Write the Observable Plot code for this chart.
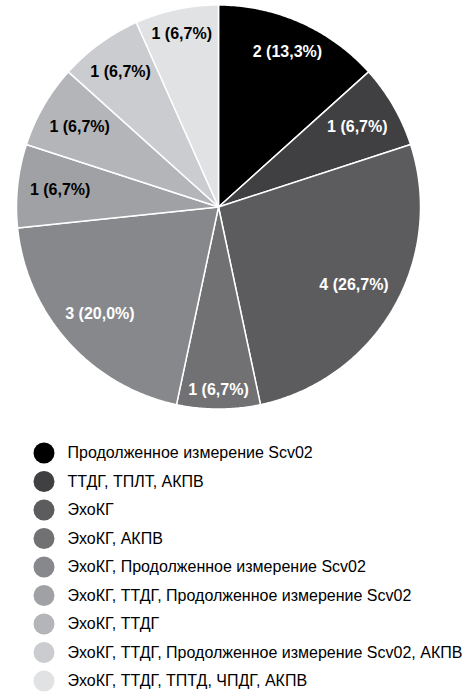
<!DOCTYPE html>
<html>
<head>
<meta charset="utf-8">
<script src="https://cdn.jsdelivr.net/npm/d3@7"></script>
<script src="https://cdn.jsdelivr.net/npm/@observablehq/plot@0.6"></script>
<style>
  html, body { margin: 0; padding: 0; background: #fff; }
  svg { display: block; }
</style>
</head>
<body>
<div id="chart"></div>
<script>
// ---- data ----
const categories = [
  "Продолженное измерение Scv02",
  "ТТДГ, ТПЛТ, АКПВ",
  "ЭхоКГ",
  "ЭхоКГ, АКПВ",
  "ЭхоКГ, Продолженное измерение Scv02",
  "ЭхоКГ, ТТДГ, Продолженное измерение Scv02",
  "ЭхоКГ, ТТДГ",
  "ЭхоКГ, ТТДГ, Продолженное измерение Scv02, АКПВ",
  "ЭхоКГ, ТТДГ, ТПТД, ЧПДГ, АКПВ"
];
const counts = [2, 1, 4, 1, 3, 1, 1, 1, 1];
const sliceLabels = ["2 (13,3%)", "1 (6,7%)", "4 (26,7%)", "1 (6,7%)", "3 (20,0%)", "1 (6,7%)", "1 (6,7%)", "1 (6,7%)", "1 (6,7%)"];
const colors = ["#000000", "#404042", "#5c5c5f", "#717174", "#87888b", "#a0a1a4", "#b4b5b8", "#cbcccf", "#e1e2e4"];
const labelColors = ["#fff", "#fff", "#fff", "#fff", "#fff", "#000", "#000", "#000", "#000"];

// ---- layout ----
const W = 463, H = 693;
const cx = 218, cy = 206.5, R = 202;
const font = '"Liberation Sans", Arial, Helvetica, sans-serif';
const labelSize = 16, legendSize = 16;

const pie = d3.pie().sort(null).value(d => d)(counts);

// slice outlines
const slicePts = [];
pie.forEach((p, i) => {
  slicePts.push({name: categories[i], color: colors[i], x: cx, y: cy});
  const n = Math.max(8, Math.ceil((p.endAngle - p.startAngle) / (Math.PI / 360)));
  for (let k = 0; k <= n; k++) {
    const a = p.startAngle + (p.endAngle - p.startAngle) * k / n;
    slicePts.push({name: categories[i], color: colors[i], x: cx + R * Math.sin(a), y: cy - R * Math.cos(a)});
  }
  slicePts.push({name: categories[i], color: colors[i], x: cx, y: cy});
});

// label positions: keep label box inside radius R - pad
const ctx = document.createElement("canvas").getContext("2d");
ctx.font = `bold ${labelSize}px ${font}`;
const labels = pie.map((p, i) => {
  const a = (p.startAngle + p.endAngle) / 2;
  const hw = ctx.measureText(sliceLabels[i]).width / 2;
  const hh = 7;
  const dist = (R - 12) - (hw * Math.abs(Math.sin(a)) + hh * Math.abs(Math.cos(a)));
  return {text: sliceLabels[i], fill: labelColors[i], x: cx + dist * Math.sin(a), y: cy - dist * Math.cos(a)};
});

// legend
const legendTop = 452.5, legendStep = 28.5;
const legend = categories.map((c, i) => ({name: c, color: colors[i], y: legendTop + i * legendStep}));

const chart = Plot.plot({
  width: W,
  height: H,
  margin: 0,
  style: {fontFamily: font, background: "#fff"},
  x: {domain: [0, W], range: [0, W], axis: null},
  y: {domain: [0, H], range: [0, H], axis: null},
  color: {type: "identity"},
  marks: [
    Plot.line(slicePts, {x: "x", y: "y", z: "name", fill: "color", stroke: "#fff", strokeWidth: 1.5, strokeLinejoin: "miter", curve: "linear"}),
    Plot.text(labels, {x: "x", y: "y", text: "text", fill: "fill", fontSize: labelSize, fontWeight: "bold", textAnchor: "middle", lineAnchor: "middle"}),
    Plot.dot(legend, {x: () => 43.5, y: "y", r: 10.5, fill: "color", stroke: null}),
    Plot.text(legend, {x: () => 67, y: "y", text: "name", fill: "#000", fontSize: legendSize, textAnchor: "start", lineAnchor: "middle"})
  ]
});
document.getElementById("chart").appendChild(chart);
</script>
</body>
</html>
